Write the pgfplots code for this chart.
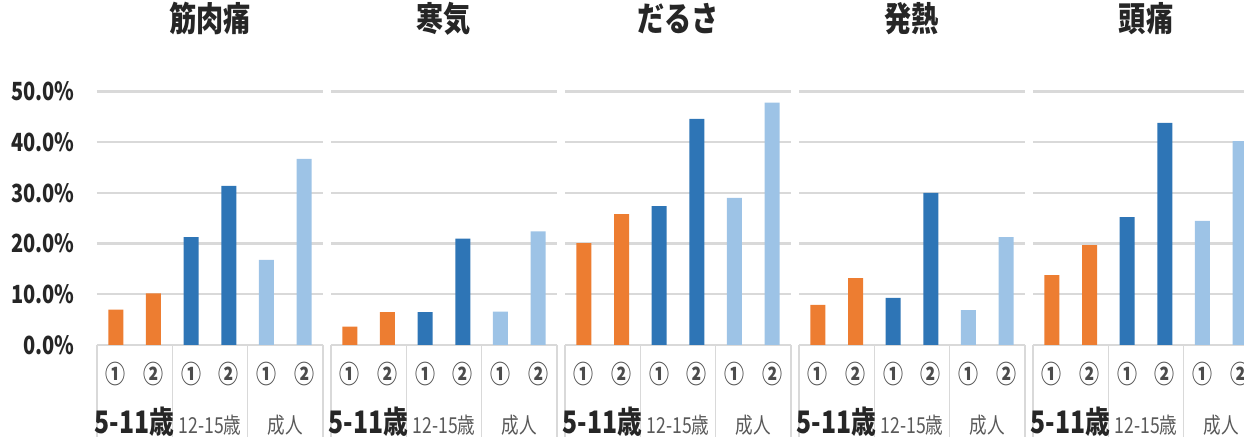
\documentclass[border=0pt]{standalone}
\usepackage{pgfplots}
\pgfplotsset{compat=1.18}
\usepackage{fontspec}
\setmainfont{Noto Sans CJK JP}[FakeStretch=0.8]
\definecolor{cO}{HTML}{ED7D31}
\definecolor{cD}{HTML}{2E75B6}
\definecolor{cL}{HTML}{9DC3E6}
\definecolor{gridc}{HTML}{D9D9D9}
\definecolor{txt}{HTML}{262626}

\pgfplotsset{panel/.style={
  anchor=south west, scale only axis, width=113pt, height=126.75pt,
  xmin=-0.5, xmax=5.5, ymin=0, ymax=50, clip=false,
  axis line style={draw=none}, major tick length=0pt,
  ymajorgrids, grid style={gridc, line width=1.2pt},
  ytick={0,10,20,30,40,50}, yticklabels={},
  xtick={0,1,2,3,4,5}, xticklabels={①,②,①,②,①,②},
  xticklabel style={anchor=center, yshift=-14.5pt, font=\fontsize{12.5pt}{12.5pt}\selectfont\bfseries, text=black!70},
  ybar, bar width=7.5pt,
  title style={at={(0.5,1)}, anchor=center, yshift=30.5pt, font=\fontsize{17pt}{17pt}\selectfont\bfseries, text=txt},
}}
\newcommand{\decor}{%
  \draw[gridc, line width=0.7pt] (axis cs:-0.5,0) -- ([yshift=-50pt]axis cs:-0.5,0);
  \draw[gridc, line width=0.7pt] (axis cs:1.5,0) -- ([yshift=-50pt]axis cs:1.5,0);
  \draw[gridc, line width=0.7pt] (axis cs:3.5,0) -- ([yshift=-50pt]axis cs:3.5,0);
  \draw[gridc, line width=0.7pt] (axis cs:5.5,0) -- ([yshift=-50pt]axis cs:5.5,0);
  \node[anchor=base, inner sep=0pt, font=\fontsize{15.5pt}{15.5pt}\selectfont\bfseries, text=txt] at ([yshift=-44.5pt]axis cs:0.5,0) {5-11歳};
  \node[anchor=base, inner sep=0pt, font=\fontsize{11pt}{11pt}\selectfont, text=black!65] at ([yshift=-44.5pt]axis cs:2.5,0) {12-15歳};
  \node[anchor=base, inner sep=0pt, font=\fontsize{11pt}{11pt}\selectfont, text=black!65] at ([yshift=-44.5pt]axis cs:4.5,0) {成人};
}
\newcommand{\bars}[6]{%
  \addplot[ybar, bar shift=0pt, fill=cO, draw=none] coordinates {(0,#1) (1,#2)};
  \addplot[ybar, bar shift=0pt, fill=cD, draw=none] coordinates {(2,#3) (3,#4)};
  \addplot[ybar, bar shift=0pt, fill=cL, draw=none] coordinates {(4,#5) (5,#6)};
}

\begin{document}
\begin{tikzpicture}
\useasboundingbox (0,0) rectangle (622pt,-218.5pt);
\clip (0,0) rectangle (622pt,-218.5pt);

\begin{axis}[panel, at={(48.5pt,-172.5pt)}, title={筋肉痛},
  yticklabels={0.0\%,10.0\%,20.0\%,30.0\%,40.0\%,50.0\%},
  yticklabel style={anchor=east, inner sep=0pt, xshift=-11pt, font=\fontsize{12.5pt}{12.5pt}\selectfont\bfseries, text=txt}]
\bars{7.0}{10.2}{21.3}{31.4}{16.8}{36.7}
\decor
\end{axis}

\begin{axis}[panel, at={(165.5pt,-172.5pt)}, title={寒気}]
\bars{3.6}{6.5}{6.5}{21.0}{6.6}{22.4}
\decor
\end{axis}

\begin{axis}[panel, at={(282.5pt,-172.5pt)}, title={だるさ}]
\bars{20.1}{25.8}{27.4}{44.6}{29.0}{47.8}
\decor
\end{axis}

\begin{axis}[panel, at={(399.5pt,-172.5pt)}, title={発熱}]
\bars{7.9}{13.2}{9.3}{30.0}{6.9}{21.3}
\decor
\end{axis}

\begin{axis}[panel, at={(516.5pt,-172.5pt)}, title={頭痛}]
\bars{13.8}{19.7}{25.2}{43.8}{24.5}{40.2}
\decor
\end{axis}
\end{tikzpicture}
\end{document}
